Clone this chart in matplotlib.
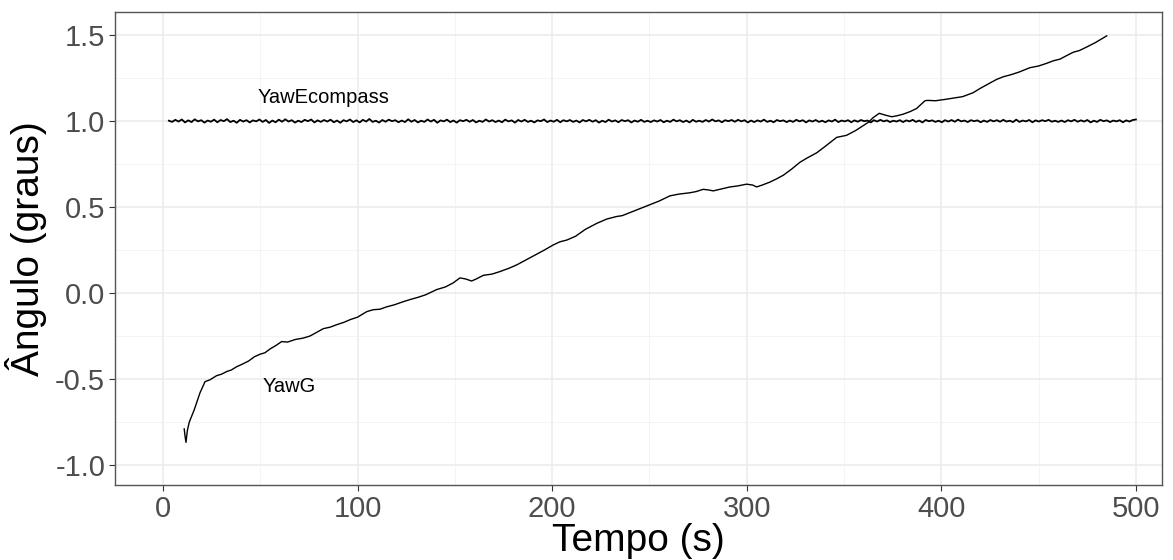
import matplotlib
matplotlib.use('Agg')
import matplotlib.pyplot as plt
import numpy as np
from matplotlib.ticker import MultipleLocator

plt.rcParams['font.family'] = ['Liberation Sans', 'DejaVu Sans']

# YawG
tg = [10.9, 11.3, 11.8, 12.5, 13.5, 16, 19, 21.6, 24, 27.6, 30, 33, 35, 37.9, 41, 44, 47,
      49.8, 52.4, 55, 58, 61, 64, 68, 72, 75.5, 79, 82.4, 86, 89, 93, 96.1, 100, 104.7,
      108, 111.5, 115, 119, 123, 126.9, 131, 135, 140.6, 145, 149, 152.6, 155.5, 158.6,
      161, 164.6, 169, 173.2, 178, 182, 186.9, 191, 196, 200.6, 204, 207.5, 212, 217,
      222.9, 228, 233.1, 236, 240, 245, 250.3, 255, 260.5, 265, 270.8, 274, 277.6, 280,
      282.8, 287, 291.4, 295, 299.9, 303, 305.1, 308, 311.9, 315, 318.8, 323, 327.3, 331,
      335.9, 340, 346.2, 351.3, 356, 362.4, 365, 368.1, 371, 374.5, 377, 380.4, 384,
      387.3, 391.6, 393, 397, 402.7, 407, 411, 416.4, 420, 424, 428.4, 432, 436, 440,
      445.5, 450, 454, 457.5, 461, 464, 467.8, 471, 475, 479, 482, 485]
yg = [-0.79, -0.83, -0.868, -0.80, -0.75, -0.68, -0.58, -0.515, -0.505, -0.48, -0.472,
      -0.455, -0.448, -0.428, -0.412, -0.395, -0.37, -0.356, -0.347, -0.325, -0.305,
      -0.282, -0.285, -0.27, -0.262, -0.25, -0.228, -0.207, -0.198, -0.185, -0.17, -0.155,
      -0.14, -0.108, -0.097, -0.094, -0.08, -0.068, -0.052, -0.038, -0.025, -0.01, 0.02,
      0.035, 0.058, 0.088, 0.082, 0.07, 0.082, 0.103, 0.11, 0.125, 0.145, 0.165, 0.195,
      0.22, 0.25, 0.28, 0.298, 0.308, 0.33, 0.37, 0.405, 0.43, 0.445, 0.45, 0.468, 0.49,
      0.515, 0.535, 0.565, 0.575, 0.583, 0.59, 0.603, 0.6, 0.594, 0.605, 0.617, 0.622,
      0.633, 0.628, 0.617, 0.628, 0.645, 0.662, 0.685, 0.72, 0.76, 0.785, 0.815, 0.85,
      0.905, 0.917, 0.945, 0.992, 1.02, 1.045, 1.035, 1.025, 1.03, 1.04, 1.055, 1.073,
      1.118, 1.12, 1.118, 1.127, 1.135, 1.142, 1.165, 1.19, 1.215, 1.242, 1.258, 1.27,
      1.285, 1.31, 1.32, 1.335, 1.35, 1.36, 1.378, 1.4, 1.41, 1.432, 1.455, 1.475, 1.495]

# YawEcompass: deviations from 1.0 in thousandths, sampled from t=3 to t=500
dev_txt = """
2 -5 7 -3 9 -8 4 -6 10 -2 5 -9 3 -4 8 -7 6 -1 11 -6 2 -10 7 -3 5
-8 4 -2 9 -5 6 -11 3 -7 8 -4 10 -3 5 -9 2 -6 7 -1 9 -8 4 -5 6 -3
8 -7 3 -10 5 -2 9 -6 4 -8 7 -3 12 -5 2 -9 6 -4 8 -1 5 -7 3 -6 10
-4 6 -8 2 -5 9 -3 7 -10 4 -2 8 -6 3 -9 5 -1 7 -4 6 -8 2 -5 9 -3
5 -6 3 -7 8 -2 4 -9 6 -3 7 -5 2 -8 4 -1 9 -6 3 -4 7 -7 5 -2 6
-5 3 -8 6 -2 7 -4 5 -9 2 -6 8 -3 4 -7 6 -1 5 -8 3 -4 7 -5 2 -6
4 -3 6 -7 2 -5 8 -2 5 -6 3 -8 7 -4 2 -5 6 -3 9 -2 4 -7 5 -1 6
-4 7 -2 5 -8 3 -6 4 -3 8 -5 2 -7 6 -1 4 -6 3 -5 7 -2 5 -8 4 -3
6 -5 2 -7 4 -3 8 -6 3 -2 5 -7 4 -4 6 -1 3 -8 5 -3 7 -2 4 -6 2
-3 5 -6 4 -2 7 -5 3 -8 6 -1 4 -5 2 -7 5 -3 6 -4 8 -2 3 -6 5 -1
4 -7 3 -5 6 -2 5 -4 7 -3 2 -6 8 -5 3 -2 6 -7 4 -3 5 -1 7 -4 2
-5 3 -6 5 -2 7 -4 4 -3 6 -8 2 -5 7 -1 4 -6 3 -2 5 -7 4 -3 6 9
"""
dev = np.array([float(v) for v in dev_txt.split()])
ye = 1.0 + dev / 1000.0
te = np.linspace(3, 500, len(ye))

fig = plt.figure(figsize=(11.73, 5.6), dpi=100)
ax = fig.add_axes([0.098, 0.1339, 0.8926, 0.8447])

ax.plot(te, ye, color='black', lw=1.3)
ax.plot(tg, yg, color='black', lw=1.0)

ax.text(82.7, 1.134, 'YawEcompass', fontsize=14.5, ha='center', va='center')
ax.text(64.7, -0.544, 'YawG', fontsize=14.5, ha='center', va='center')

ax.set_xlim(-24.7, 513.4)
ax.set_ylim(-1.116, 1.634)
ax.xaxis.set_major_locator(MultipleLocator(100))
ax.xaxis.set_minor_locator(MultipleLocator(50))
ax.yaxis.set_major_locator(MultipleLocator(0.5))
ax.yaxis.set_minor_locator(MultipleLocator(0.25))
ax.yaxis.set_major_formatter(matplotlib.ticker.FormatStrFormatter('%.1f'))

ax.grid(which='major', color='#EBEBEB', lw=1.1)
ax.grid(which='minor', color='#F2F2F2', lw=0.6)
ax.set_axisbelow(True)
for s in ax.spines.values():
    s.set_color('#555555')
    s.set_linewidth(1.0)
ax.tick_params(which='major', length=4, color='#333333', labelsize=21, labelcolor='#4D4D4D', pad=3)
ax.tick_params(which='minor', length=0)

ax.set_xlabel('Tempo (s)', fontsize=28, labelpad=0)
ax.set_ylabel('Ângulo (graus)', fontsize=28, labelpad=6)

fig.savefig('out.png', dpi=100)
